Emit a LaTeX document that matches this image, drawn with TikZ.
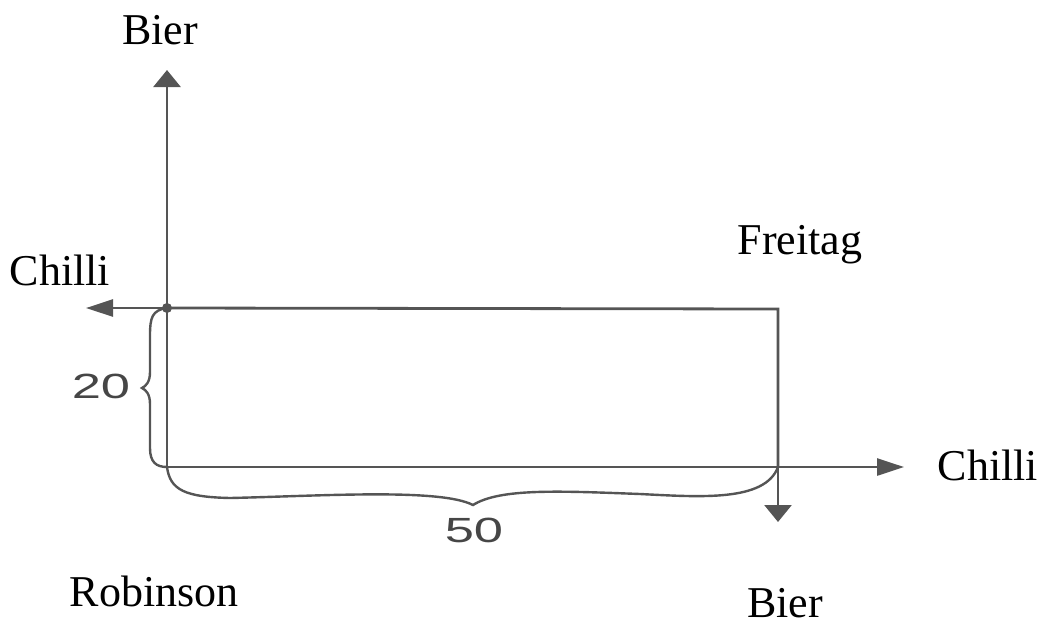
\documentclass[tikz,border=0pt]{standalone}
\usepackage{fontspec}
\setmainfont{Liberation Serif}
\newfontfamily\numfont{Liberation Sans}
\usetikzlibrary{arrows.meta}
\definecolor{ink}{RGB}{85,85,85}
\definecolor{numgray}{RGB}{70,70,70}
\tikzset{
  vaxis/.style={draw=ink, line width=2.8pt, -{Triangle[length=17pt,width=27pt]}},
  haxis/.style={draw=ink, line width=2.8pt, -{Triangle[length=27pt,width=17pt]}},
  edge/.style={draw=ink, line width=2.8pt},
  bracecurve/.style={draw=ink, line width=2.4pt, line cap=round},
  lab/.style={font=\fontsize{44}{50}\selectfont, text=black, inner sep=0pt},
  num/.style={font=\numfont\fontsize{35}{40}\selectfont, text=numgray, inner sep=0pt}
}
\begin{document}
\begin{tikzpicture}[x=1pt,y=-1pt]
\useasboundingbox (0,0) rectangle (1048,637);
% corners
\coordinate (TL) at (167,308);
\coordinate (BL) at (167,467);
\coordinate (TR) at (778,309);
\coordinate (BR) at (778,467);
% free arrow ends
\coordinate (up) at (167,70);
\coordinate (left) at (86,308);
\coordinate (right) at (904,467);
\coordinate (down) at (778,522);
% rectangle edges
\draw[edge] (TL) -- (TR) -- (BR);
\draw[edge] (BL) -- (BR);
% axes
\draw[vaxis] (BL) -- (up);
\draw[haxis] (TL) -- (left);
\draw[haxis] (BR) -- (right);
\draw[vaxis] (TR) -- (down);
\fill[ink] (TL) circle (5pt);
% left brace (20)
\draw[bracecurve] (TL) .. controls (152,310) and (150,318) .. (150,335)
  -- (150,372) .. controls (150,382) and (146,386) .. (142,388)
  .. controls (146,390) and (150,394) .. (150,404)
  -- (150,448) .. controls (150,462) and (156,467) .. (BL);
% bottom brace (50)
\draw[bracecurve] (BL) .. controls (170,490) and (185,497) .. (230,498)
  .. controls (320,496) and (440,488) .. (473,505)
  .. controls (500,488) and (560,491) .. (640,494)
  .. controls (700,497) and (765,502) .. (BR);
% labels
\node[lab] (bierTop) at (160,30) {Bier};
\node[lab] (chilliL) at (60,270) {Chilli};
\node[lab] (freitag) at (800,245) {Freitag};
\node[lab] (chilliR) at (988,465) {Chilli};
\node[lab] (robinson) at (154,591) {Robinson};
\node[lab] (bierBot) at (785,603) {Bier};
\node[num] (twenty) at (101,386) {\scalebox{1.5}[1]{20}};
\node[num] (fifty) at (474,530) {\scalebox{1.5}[1]{50}};
\end{tikzpicture}
\end{document}
